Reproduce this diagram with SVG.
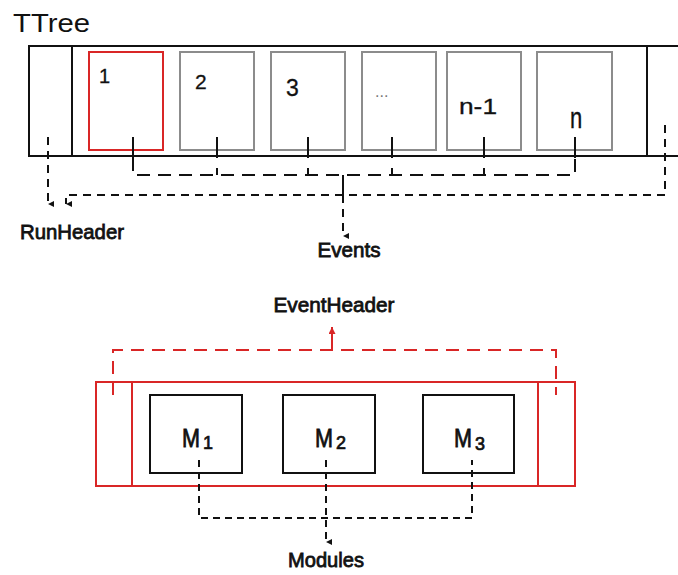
<svg xmlns="http://www.w3.org/2000/svg" width="678" height="575" viewBox="0 0 678 575">
<defs>
<style>
.t{font-family:"Liberation Sans",Arial,sans-serif;fill:#111}
.lbl{font-size:21px;stroke:#111;stroke-width:0.8}
.ml{font-size:26px;stroke:#111;stroke-width:0.8}
.ms{font-size:18px;stroke:#111;stroke-width:0.7}
.blk{fill:none;stroke:#111;stroke-width:2}
.gray{fill:#fff;stroke:#8c8c8c;stroke-width:2}
.red{fill:none;stroke:#d92626;stroke-width:2}
.dl{fill:none;stroke:#111;stroke-width:2;stroke-dasharray:13 8}
.ds{fill:none;stroke:#111;stroke-width:2;stroke-dasharray:8 6}
.dm{fill:none;stroke:#111;stroke-width:2;stroke-dasharray:7 5}
.dr{fill:none;stroke:#d92626;stroke-width:2;stroke-dasharray:13 8}
.sol{fill:none;stroke:#111;stroke-width:2}
</style>
<marker id="ah" viewBox="0 0 6 6" refX="3" refY="6" markerWidth="6" markerHeight="6" markerUnits="userSpaceOnUse" orient="auto-start-reverse">
<path d="M0,0 L6,0 L3,6 Z" fill="#111"/>
</marker>
<marker id="ahr" viewBox="0 0 6 6" refX="6" refY="3" markerWidth="7" markerHeight="7" markerUnits="userSpaceOnUse" orient="auto">
<path d="M0,0 L6,3 L0,6 Z" fill="#d92626"/>
</marker>
</defs>
<rect width="678" height="575" fill="#fff"/>

<text class="t" x="13" y="32" font-size="24" textLength="77" lengthAdjust="spacingAndGlyphs" transform="translate(13,32) scale(1,1.05) translate(-13,-32)">TTree</text>

<g id="ttree">
<path class="blk" d="M680,46 H29 V156 H680 M72,46 V156 M647,46 V156"/>
</g>
<g id="box1"><rect class="red" x="89" y="52" width="74" height="98"/><text class="t" x="99" y="83" font-size="20" stroke="#111" stroke-width="0.3">1</text></g>
<g id="box2"><rect class="gray" x="180" y="52" width="74" height="98"/><text class="t" x="195" y="89" font-size="21" stroke="#111" stroke-width="0.3">2</text></g>
<g id="box3"><rect class="gray" x="271" y="52" width="74" height="98"/><text class="t" x="286" y="96" font-size="23" stroke="#111" stroke-width="0.3">3</text></g>
<g id="boxdots"><rect class="gray" x="362" y="52" width="74" height="98"/><text class="t" x="375" y="97" font-size="16" style="fill:#777">...</text></g>
<g id="boxn1"><rect class="gray" x="447" y="52" width="74" height="98"/><text class="t" x="459" y="114" font-size="22" stroke="#111" stroke-width="0.3" textLength="38" lengthAdjust="spacingAndGlyphs">n-1</text></g>
<g id="boxn"><rect class="gray" x="537" y="52" width="75" height="98"/><text class="t" x="570" y="128" font-size="22" stroke="#111" stroke-width="0.3" transform="translate(570,128) scale(1,1.3) translate(-570,-128)">n</text></g>

<g id="eventheader-box">
<rect class="red" x="96" y="382" width="479" height="104"/>
<path class="red" d="M132,382 V486 M538,382 V486"/>
</g>
<g id="m1"><rect class="blk" x="150" y="395" width="92" height="78"/><text class="t ml" x="182" y="447" textLength="18" lengthAdjust="spacingAndGlyphs">M</text><text class="t ms" x="203" y="449">1</text></g>
<g id="m2"><rect class="blk" x="283" y="395" width="92" height="78"/><text class="t ml" x="315" y="447" textLength="18" lengthAdjust="spacingAndGlyphs">M</text><text class="t ms" x="336" y="449">2</text></g>
<g id="m3"><rect class="blk" x="423" y="395" width="91" height="78"/><text class="t ml" x="454" y="447" textLength="18" lengthAdjust="spacingAndGlyphs">M</text><text class="t ms" x="475" y="450">3</text></g>

<g id="connectors">
<path class="sol" d="M133,137 V158 M217,137 V158 M308,137 V158 M392,137 V158 M484,137 V158 M575,137 V158"/>
<path class="dl" d="M133,158 V175 H575 V158"/>
<path class="sol" d="M217,168 V175 M308,168 V175 M392,168 V175 M484,168 V175 M343,175 V195"/>
<path class="ds" d="M665,125 V195 H66 V204" marker-end="url(#ah)"/>
<path class="ds" d="M48,137 V204" marker-end="url(#ah)"/>
<path class="ds" d="M343,195 V236" marker-end="url(#ah)"/>
<path class="dr" d="M113,395 V350 H556 V395"/>
<path class="red" d="M332,350 V327" marker-end="url(#ahr)"/>
<path class="dm" d="M199,460 V518 H472 V460"/>
<path class="dm" d="M326,460 V542" marker-end="url(#ah)"/>
</g>

<g id="labels">
<text class="t lbl" x="72" y="239" text-anchor="middle" textLength="104" lengthAdjust="spacingAndGlyphs">RunHeader</text>
<text class="t lbl" x="349" y="257" text-anchor="middle" textLength="63" lengthAdjust="spacingAndGlyphs">Events</text>
<text class="t lbl" x="334" y="312" text-anchor="middle" textLength="121" lengthAdjust="spacingAndGlyphs">EventHeader</text>
<text class="t lbl" x="326" y="567" text-anchor="middle" textLength="76" lengthAdjust="spacingAndGlyphs">Modules</text>
</g>
</svg>
